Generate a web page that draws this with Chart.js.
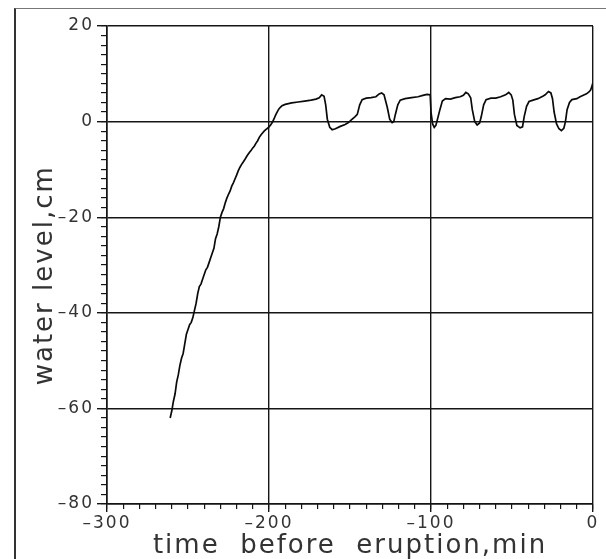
<!DOCTYPE html>
<html>
<head>
<meta charset="utf-8">
<script src="https://cdn.jsdelivr.net/npm/chart.js@4/dist/chart.umd.min.js"></script>
<style>
  html, body { margin: 0; padding: 0; background: #fff; }
  #wrap { position: relative; width: 606px; height: 559px; overflow: hidden; }
  #frame { position: absolute; left: 14px; top: 8px; width: 600px; height: 560px;
           border-left: 2px solid #333; border-top: 1px solid #777; pointer-events: none; }
</style>
</head>
<body>
<div id="wrap">
  <canvas id="c" width="606" height="559"></canvas>
  <div id="frame"></div>
</div>
<script>
// ---- data ----
const timeMin = [
  -261, -260, -259, -258, -257, -256, -255, -254, -253, -252,
  -251, -250, -249, -248, -247, -246, -245, -244, -243, -242,
  -241, -240, -239, -238, -237, -236, -235, -234, -233, -232,
  -231, -230, -229, -228, -227, -226, -225, -224, -223, -222,
  -221, -220, -219, -218, -217, -216, -215, -214, -213, -212,
  -211, -210, -209, -208, -207, -206, -205, -204, -203, -202,
  -201, -200, -199, -198, -197, -196, -195, -194, -193, -192,
  -190, -186, -182, -178, -174, -171, -169, -167.5, -166, -165,
  -164, -162.5, -161, -159, -156, -153, -151, -149, -147, -145.5,
  -144, -142.5, -140, -137, -134, -132, -130.5, -129, -127, -125.5,
  -124, -123, -122, -120.5, -119, -116, -112, -108, -105, -102.5,
  -100.5, -100, -99, -98, -97, -96, -94.5, -93, -91, -88,
  -85, -82, -80, -78.5, -77, -75.5, -74.5, -73, -71.5, -70,
  -69, -67.5, -66, -63, -60, -57, -54, -52, -50.5, -49.5,
  -48.5, -47, -45, -43.5, -42.5, -41, -39.5, -37, -34, -31,
  -29.5, -27.5, -26, -25, -24, -22.5, -21, -19.5, -18, -17,
  -16, -14.5, -13, -10, -8, -6, -4, -2.5, -1.5, -0.8,
  -0.2
];
const waterLevel = [
  -62, -60.5, -58.5, -57, -54.5, -53, -51, -49.5, -48.5, -46.5,
  -44.5, -43.5, -42.5, -42, -41, -39.5, -38, -36, -34.5, -34,
  -33, -32, -31, -30.5, -29.5, -28.5, -27.5, -26.5, -24.5, -23.5,
  -22, -20, -19, -18.2, -17, -16, -15.2, -14.5, -13.5, -12.8,
  -12, -11.2, -10.3, -9.6, -9, -8.5, -8, -7.4, -6.9, -6.4,
  -6, -5.5, -5.1, -4.5, -4, -3.3, -2.8, -2.4, -2, -1.7,
  -1.4, -1.1, -0.7, -0.2, 0.5, 1.3, 2.0, 2.6, 3.0, 3.3,
  3.6, 3.9, 4.1, 4.3, 4.5, 4.7, 5.0, 5.6, 5.3, 3.5,
  0.5, -1.2, -1.7, -1.5, -1.0, -0.6, -0.2, 0.4, 1.0, 1.5,
  3.5, 4.6, 4.9, 5.0, 5.2, 5.8, 6.0, 5.6, 3.0, 0.5,
  -0.2, 0.0, 1.5, 3.5, 4.5, 4.8, 5.0, 5.2, 5.5, 5.7,
  5.6, 2.0, -0.5, -1.2, -0.8, 0.5, 2.5, 4.3, 4.8, 4.7,
  5.0, 5.2, 5.5, 6.1, 5.8, 5.0, 2.5, 0.0, -0.7, -0.3,
  1.0, 3.5, 4.6, 4.9, 4.9, 5.2, 5.6, 6.1, 5.6, 4.5,
  1.5, -0.8, -1.3, -1.1, 1.0, 3.2, 4.2, 4.5, 4.8, 5.3,
  5.6, 6.3, 6.0, 4.8, 2.0, -0.5, -1.5, -1.9, -1.4, 0.0,
  2.5, 4.0, 4.6, 4.8, 5.2, 5.5, 5.8, 6.2, 6.6, 7.2,
  8.0
];
const xRange = [-300, 0];
const yRange = [-80, 20];
const xMajorStep = 100, xMinorStep = 10;
const yMajorStep = 20, yMinorStep = 2;
const xTitle = 'time  before  eruption,min';
const yTitle = 'water level,cm  ';

// ---- chart ----
const ink = '#151515';
const textInk = '#333';
const tickFont = { family: 'DejaVu Sans', size: 17, weight: 'normal' };
const titleFont = { family: 'DejaVu Sans', size: 26, weight: 'normal', lineHeight: 1.2 };
const fmt = v => (v < 0 ? '\u2013' + Math.abs(v) : String(v));

const points = timeMin.map((t, i) => ({ x: t, y: waterLevel[i] }));

const spacingPlugin = {
  id: 'spacing',
  beforeLayout(chart) { chart.ctx.letterSpacing = '2px'; },
  beforeDraw(chart) { chart.ctx.letterSpacing = '2px'; }
};

new Chart(document.getElementById('c'), {
  type: 'scatter',
  data: {
    datasets: [{
      data: points,
      showLine: true,
      borderColor: '#0a0a0a',
      borderWidth: 1.7,
      pointRadius: 0,
      tension: 0,
      xAxisID: 'x',
      yAxisID: 'y'
    }]
  },
  options: {
    responsive: false,
    animation: false,
    devicePixelRatio: 1,
    layout: { padding: { left: 20, right: 13, top: 26, bottom: 0 } },
    plugins: { legend: { display: false }, tooltip: { enabled: false } },
    scales: {
      x: {
        type: 'linear', position: 'bottom', weight: 1,
        min: xRange[0], max: xRange[1],
        ticks: { stepSize: xMajorStep, font: tickFont, color: textInk, padding: 1, maxRotation: 0, callback: fmt },
        grid: { color: ink, lineWidth: 1.4, tickLength: 8 },
        border: { color: ink, width: 1.6 },
        title: { display: true, text: xTitle, font: titleFont, color: textInk, padding: { top: 0, bottom: -3 } },
        afterFit(s) { s.height = 55; }
      },
      xMinor: {
        type: 'linear', position: 'bottom', weight: 0,
        min: xRange[0], max: xRange[1],
        ticks: { stepSize: xMinorStep, display: false },
        grid: { drawOnChartArea: false, tickLength: 5, color: ink, lineWidth: 1.2 },
        border: { display: false },
        afterFit(s) { s.height = 0; }
      },
      y: {
        type: 'linear', position: 'left', weight: 1,
        min: yRange[0], max: yRange[1],
        ticks: { stepSize: yMajorStep, font: tickFont, color: textInk, padding: 3, callback: fmt },
        grid: { color: ink, lineWidth: 1.4, tickLength: 10 },
        border: { color: ink, width: 1.6 },
        title: { display: true, text: yTitle, font: titleFont, color: textInk, padding: { top: 10, bottom: 0 } },
        afterFit(s) { s.width = 87; }
      },
      yMinor: {
        type: 'linear', position: 'left', weight: 0,
        min: yRange[0], max: yRange[1],
        ticks: { stepSize: yMinorStep, display: false },
        grid: { drawOnChartArea: false, tickLength: 6, color: ink, lineWidth: 1.2 },
        border: { display: false },
        afterFit(s) { s.width = 0; }
      }
    }
  },
  plugins: [spacingPlugin]
});
</script>
</body>
</html>
